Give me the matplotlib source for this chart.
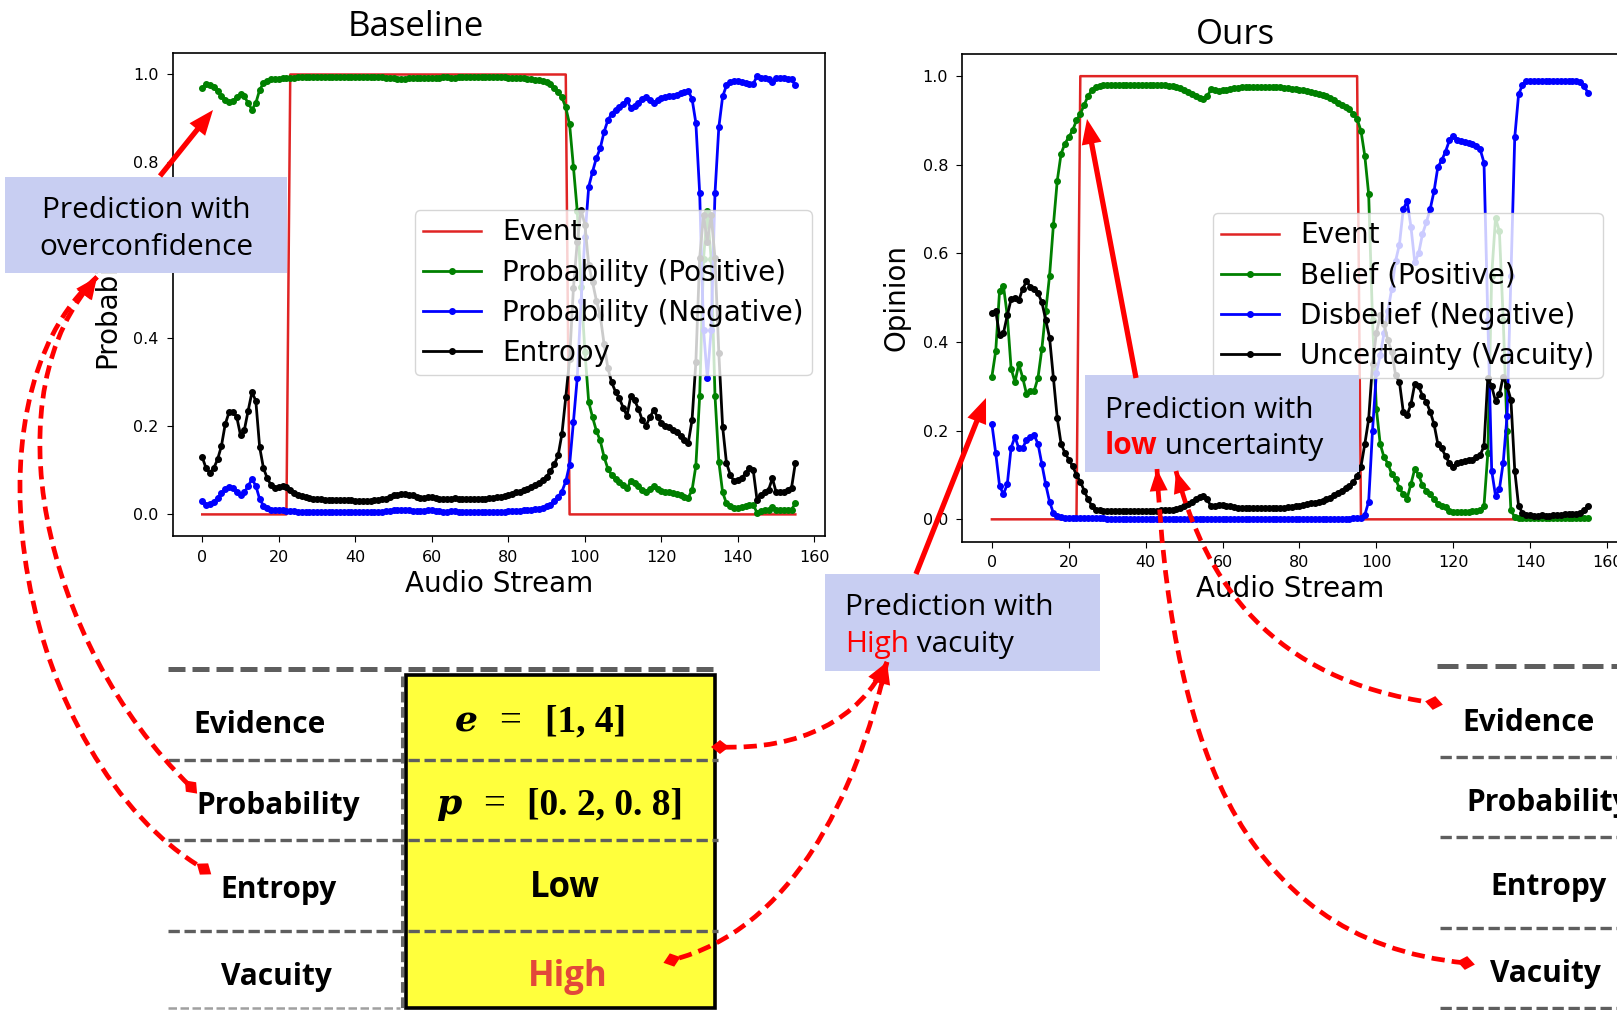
"""Baseline probability/entropy vs. our belief/disbelief/vacuity on one audio stream, with callouts."""

import matplotlib

matplotlib.use("Agg")
import matplotlib.pyplot as plt  # noqa: E402
import numpy as np  # noqa: E402
from matplotlib.patches import PathPatch, Polygon, Rectangle  # noqa: E402
from matplotlib.path import Path  # noqa: E402

# ground-truth event (same for both panels), one value per audio frame 0..155
EVENT = [
    0, 0, 0, 0, 0, 0, 0, 0, 0, 0, 0, 0, 0, 0, 0, 0, 0, 0, 0, 0,
    0, 0, 0, 1, 1, 1, 1, 1, 1, 1, 1, 1, 1, 1, 1, 1, 1, 1, 1, 1,
    1, 1, 1, 1, 1, 1, 1, 1, 1, 1, 1, 1, 1, 1, 1, 1, 1, 1, 1, 1,
    1, 1, 1, 1, 1, 1, 1, 1, 1, 1, 1, 1, 1, 1, 1, 1, 1, 1, 1, 1,
    1, 1, 1, 1, 1, 1, 1, 1, 1, 1, 1, 1, 1, 1, 1, 1, 0, 0, 0, 0,
    0, 0, 0, 0, 0, 0, 0, 0, 0, 0, 0, 0, 0, 0, 0, 0, 0, 0, 0, 0,
    0, 0, 0, 0, 0, 0, 0, 0, 0, 0, 0, 0, 0, 0, 0, 0, 0, 0, 0, 0,
    0, 0, 0, 0, 0, 0, 0, 0, 0, 0, 0, 0, 0, 0, 0, 0,
]

# --- Baseline (softmax) ---
BASE_POS = [
    0.970, 0.978, 0.976, 0.972, 0.962, 0.952, 0.942, 0.938, 0.940, 0.948,
    0.955, 0.950, 0.935, 0.920, 0.935, 0.965, 0.980, 0.986, 0.989, 0.990,
    0.990, 0.991, 0.992, 0.993, 0.993, 0.994, 0.994, 0.995, 0.995, 0.995,
    0.995, 0.995, 0.995, 0.995, 0.995, 0.995, 0.995, 0.995, 0.995, 0.995,
    0.995, 0.995, 0.995, 0.995, 0.995, 0.995, 0.995, 0.994, 0.993, 0.992,
    0.991, 0.990, 0.990, 0.990, 0.991, 0.992, 0.993, 0.993, 0.992, 0.991,
    0.991, 0.992, 0.993, 0.994, 0.994, 0.993, 0.993, 0.994, 0.994, 0.994,
    0.994, 0.994, 0.994, 0.994, 0.994, 0.994, 0.994, 0.994, 0.994, 0.994,
    0.993, 0.993, 0.992, 0.992, 0.991, 0.990, 0.989, 0.988, 0.987, 0.985,
    0.982, 0.978, 0.970, 0.960, 0.948, 0.925, 0.887, 0.790, 0.690, 0.516,
    0.370, 0.255, 0.221, 0.190, 0.168, 0.131, 0.104, 0.089, 0.080, 0.074,
    0.066, 0.059, 0.076, 0.072, 0.065, 0.055, 0.051, 0.058, 0.064, 0.058,
    0.053, 0.051, 0.050, 0.048, 0.046, 0.043, 0.040, 0.038, 0.055, 0.110,
    0.270, 0.580, 0.690, 0.580, 0.270, 0.120, 0.050, 0.025, 0.018, 0.014,
    0.015, 0.016, 0.019, 0.022, 0.021, 0.004, 0.007, 0.009, 0.010, 0.016,
    0.009, 0.009, 0.009, 0.010, 0.011, 0.025,
]
BASE_NEG = [
    0.030, 0.022, 0.024, 0.028, 0.038, 0.048, 0.058, 0.062, 0.060, 0.052,
    0.045, 0.050, 0.065, 0.080, 0.065, 0.035, 0.020, 0.014, 0.011, 0.010,
    0.010, 0.009, 0.008, 0.007, 0.007, 0.006, 0.006, 0.005, 0.005, 0.005,
    0.005, 0.005, 0.005, 0.005, 0.005, 0.005, 0.005, 0.005, 0.005, 0.005,
    0.005, 0.005, 0.005, 0.005, 0.005, 0.005, 0.005, 0.006, 0.007, 0.008,
    0.009, 0.010, 0.010, 0.010, 0.009, 0.008, 0.007, 0.007, 0.008, 0.009,
    0.009, 0.008, 0.007, 0.006, 0.006, 0.007, 0.007, 0.006, 0.006, 0.006,
    0.006, 0.006, 0.006, 0.006, 0.006, 0.006, 0.006, 0.006, 0.006, 0.006,
    0.007, 0.007, 0.008, 0.008, 0.009, 0.010, 0.011, 0.012, 0.013, 0.015,
    0.018, 0.022, 0.030, 0.040, 0.052, 0.075, 0.113, 0.210, 0.310, 0.484,
    0.630, 0.745, 0.779, 0.810, 0.832, 0.869, 0.896, 0.911, 0.920, 0.926,
    0.934, 0.941, 0.924, 0.928, 0.935, 0.945, 0.949, 0.942, 0.936, 0.942,
    0.947, 0.949, 0.950, 0.952, 0.954, 0.957, 0.960, 0.962, 0.945, 0.890,
    0.730, 0.420, 0.310, 0.420, 0.730, 0.880, 0.950, 0.975, 0.982, 0.986,
    0.985, 0.984, 0.981, 0.978, 0.979, 0.996, 0.993, 0.991, 0.990, 0.984,
    0.991, 0.991, 0.991, 0.990, 0.989, 0.975,
]
BASE_ENT = [
    0.130, 0.105, 0.095, 0.105, 0.125, 0.155, 0.205, 0.232, 0.232, 0.222,
    0.180, 0.192, 0.236, 0.278, 0.258, 0.153, 0.105, 0.082, 0.066, 0.060,
    0.063, 0.065, 0.062, 0.055, 0.048, 0.044, 0.041, 0.039, 0.037, 0.036,
    0.035, 0.034, 0.033, 0.032, 0.032, 0.032, 0.032, 0.032, 0.032, 0.032,
    0.031, 0.031, 0.031, 0.031, 0.031, 0.032, 0.033, 0.034, 0.036, 0.039,
    0.043, 0.045, 0.046, 0.046, 0.045, 0.043, 0.040, 0.038, 0.038, 0.040,
    0.040, 0.038, 0.036, 0.035, 0.035, 0.036, 0.037, 0.036, 0.035, 0.035,
    0.036, 0.036, 0.036, 0.036, 0.036, 0.037, 0.038, 0.039, 0.040, 0.042,
    0.045, 0.047, 0.050, 0.052, 0.055, 0.058, 0.062, 0.066, 0.071, 0.078,
    0.086, 0.098, 0.114, 0.134, 0.183, 0.266, 0.353, 0.514, 0.619, 0.693,
    0.659, 0.567, 0.528, 0.486, 0.453, 0.388, 0.333, 0.300, 0.279, 0.264,
    0.243, 0.224, 0.269, 0.259, 0.240, 0.214, 0.202, 0.221, 0.237, 0.221,
    0.207, 0.202, 0.199, 0.193, 0.187, 0.178, 0.168, 0.162, 0.214, 0.346,
    0.583, 0.680, 0.619, 0.680, 0.583, 0.367, 0.199, 0.117, 0.090, 0.075,
    0.078, 0.082, 0.094, 0.106, 0.100, 0.032, 0.045, 0.050, 0.056, 0.082,
    0.050, 0.050, 0.050, 0.056, 0.060, 0.117,
]

# --- Ours (subjective opinion) ---
OURS_BELIEF = [
    0.322, 0.380, 0.516, 0.527, 0.460, 0.340, 0.310, 0.350, 0.320, 0.283,
    0.289, 0.290, 0.320, 0.385, 0.470, 0.550, 0.664, 0.764, 0.825, 0.848,
    0.862, 0.878, 0.900, 0.915, 0.935, 0.955, 0.968, 0.976, 0.978, 0.980,
    0.980, 0.980, 0.981, 0.981, 0.981, 0.981, 0.980, 0.980, 0.980, 0.980,
    0.980, 0.980, 0.979, 0.979, 0.979, 0.979, 0.978, 0.977, 0.976, 0.973,
    0.969, 0.965, 0.960, 0.955, 0.950, 0.948, 0.955, 0.970, 0.968, 0.967,
    0.968, 0.968, 0.970, 0.973, 0.974, 0.975, 0.975, 0.975, 0.975, 0.975,
    0.975, 0.975, 0.975, 0.975, 0.975, 0.975, 0.974, 0.973, 0.972, 0.970,
    0.969, 0.968, 0.966, 0.964, 0.962, 0.960, 0.958, 0.955, 0.951, 0.946,
    0.940, 0.935, 0.930, 0.925, 0.915, 0.903, 0.877, 0.820, 0.734, 0.450,
    0.250, 0.170, 0.140, 0.126, 0.102, 0.091, 0.070, 0.057, 0.047, 0.080,
    0.114, 0.100, 0.077, 0.065, 0.057, 0.045, 0.035, 0.030, 0.027, 0.018,
    0.016, 0.016, 0.017, 0.017, 0.017, 0.018, 0.018, 0.020, 0.030, 0.150,
    0.550, 0.680, 0.650, 0.450, 0.200, 0.020, 0.005, 0.003, 0.002, 0.002,
    0.002, 0.002, 0.002, 0.002, 0.002, 0.002, 0.002, 0.002, 0.002, 0.002,
    0.002, 0.002, 0.002, 0.002, 0.002, 0.002,
]
OURS_DISBELIEF = [
    0.215, 0.149, 0.075, 0.057, 0.079, 0.162, 0.186, 0.160, 0.160, 0.180,
    0.186, 0.190, 0.170, 0.125, 0.079, 0.040, 0.014, 0.008, 0.005, 0.003,
    0.002, 0.002, 0.002, 0.002, 0.002, 0.002, 0.002, 0.002, 0.002, 0.002,
    0.001, 0.001, 0.001, 0.001, 0.001, 0.001, 0.001, 0.001, 0.001, 0.001,
    0.001, 0.001, 0.001, 0.001, 0.001, 0.001, 0.001, 0.001, 0.001, 0.001,
    0.001, 0.001, 0.001, 0.001, 0.001, 0.001, 0.001, 0.001, 0.001, 0.001,
    0.001, 0.001, 0.001, 0.001, 0.001, 0.001, 0.001, 0.001, 0.001, 0.001,
    0.001, 0.001, 0.001, 0.001, 0.001, 0.001, 0.001, 0.001, 0.001, 0.001,
    0.001, 0.001, 0.001, 0.001, 0.001, 0.001, 0.001, 0.001, 0.001, 0.001,
    0.001, 0.001, 0.001, 0.001, 0.002, 0.002, 0.004, 0.010, 0.040, 0.200,
    0.330, 0.370, 0.420, 0.470, 0.520, 0.583, 0.620, 0.700, 0.718, 0.660,
    0.580, 0.600, 0.644, 0.670, 0.700, 0.740, 0.795, 0.810, 0.830, 0.855,
    0.865, 0.856, 0.853, 0.852, 0.850, 0.847, 0.842, 0.835, 0.805, 0.450,
    0.110, 0.053, 0.068, 0.128, 0.233, 0.550, 0.862, 0.959, 0.980, 0.988,
    0.990, 0.990, 0.990, 0.989, 0.989, 0.990, 0.990, 0.990, 0.989, 0.989,
    0.988, 0.988, 0.988, 0.987, 0.978, 0.963,
]
OURS_VACUITY = [
    0.465, 0.470, 0.415, 0.420, 0.460, 0.497, 0.500, 0.494, 0.520, 0.537,
    0.525, 0.520, 0.510, 0.490, 0.450, 0.410, 0.320, 0.228, 0.170, 0.150,
    0.135, 0.120, 0.100, 0.085, 0.065, 0.045, 0.030, 0.022, 0.020, 0.019,
    0.018, 0.018, 0.018, 0.018, 0.018, 0.018, 0.018, 0.018, 0.018, 0.018,
    0.018, 0.018, 0.019, 0.019, 0.020, 0.020, 0.021, 0.022, 0.023, 0.026,
    0.030, 0.034, 0.040, 0.045, 0.050, 0.052, 0.045, 0.029, 0.031, 0.033,
    0.032, 0.031, 0.030, 0.027, 0.026, 0.025, 0.025, 0.025, 0.025, 0.025,
    0.025, 0.025, 0.025, 0.025, 0.025, 0.025, 0.026, 0.027, 0.028, 0.030,
    0.031, 0.032, 0.034, 0.036, 0.038, 0.040, 0.042, 0.045, 0.049, 0.054,
    0.060, 0.065, 0.070, 0.075, 0.085, 0.097, 0.119, 0.170, 0.226, 0.350,
    0.420, 0.460, 0.440, 0.404, 0.378, 0.326, 0.310, 0.243, 0.235, 0.260,
    0.306, 0.300, 0.279, 0.265, 0.243, 0.215, 0.170, 0.160, 0.143, 0.127,
    0.119, 0.128, 0.130, 0.131, 0.133, 0.135, 0.140, 0.145, 0.165, 0.320,
    0.300, 0.267, 0.282, 0.322, 0.300, 0.270, 0.110, 0.030, 0.015, 0.010,
    0.010, 0.008, 0.008, 0.010, 0.008, 0.008, 0.010, 0.010, 0.010, 0.012,
    0.012, 0.012, 0.013, 0.015, 0.020, 0.030,
]

BASE_LABELS = ["Probability (Positive)", "Probability (Negative)", "Entropy"]
OURS_LABELS = ["Belief (Positive)", "Disbelief (Negative)", "Uncertainty (Vacuity)"]
ROW_NAMES = ["Evidence", "Probability", "Entropy", "Vacuity"]

W, H = 1617, 1010
SANS = "Open Sans"
BOX_BLUE = "#c8cef2"
RED = "#ff0000"


def _frac(x0, y0, x1, y1):
    # pixel box (top-left origin) -> figure fraction rect
    return [x0 / W, 1 - y1 / H, (x1 - x0) / W, (y1 - y0) / H]


def _panel(ax, series, labels, ylabel, legend_xy):
    x = np.arange(len(EVENT))
    ax.plot(x, EVENT, color="#e02424", lw=1.8, label="Event")
    for ys, color, label in zip(series, ("green", "blue", "black"), labels):
        ax.plot(x, ys, "-o", color=color, lw=2.0, ms=4.0, label=label)
    ax.tick_params(labelsize=11.5, length=4.5, pad=5.5)
    for sp in ax.spines.values():
        sp.set_linewidth(1.2)
    ax.set_xlabel("Audio Stream", fontsize=20)
    ax.xaxis.set_label_coords(0.5, -0.069)
    ax.set_ylabel(ylabel, fontsize=20)
    ax.yaxis.set_label_coords(-0.078, 0.5)
    ax.legend(loc="upper left", bbox_to_anchor=legend_xy, borderaxespad=0, fontsize=20,
              borderpad=0.3, labelspacing=0.44, handlelength=2.1, handletextpad=0.75,
              markerscale=1.0)


def _bezier(p, t):
    p = np.asarray(p, float)
    return ((1 - t) ** 3 * p[0] + 3 * (1 - t) ** 2 * t * p[1]
            + 3 * (1 - t) * t ** 2 * p[2] + t ** 3 * p[3])


def _unit(a, b):
    d = np.asarray(b, float) - np.asarray(a, float)
    return d / np.hypot(*d)


def _head(ov, tip, frm, length, width, z=7):
    tip = np.asarray(tip, float)
    d = _unit(frm, tip)
    n = np.array([-d[1], d[0]])
    base = tip - length * d
    ov.add_patch(Polygon([tip, base + n * width / 2, base - n * width / 2],
                         closed=True, fc=RED, ec="none", zorder=z))


def _dashed_link(ov, pts):
    path = Path(pts, [Path.MOVETO, Path.CURVE4, Path.CURVE4, Path.CURVE4])
    ov.add_patch(PathPatch(path, fc="none", ec=RED, lw=3.4, ls=(0, (2.8, 1.5)), zorder=6))
    _head(ov, pts[0], _bezier(pts, 0.12), 22, 18)
    end = np.asarray(pts[3], float)
    d = _unit(_bezier(pts, 0.92), end)
    n = np.array([-d[1], d[0]])
    ov.add_patch(Polygon([end + 9 * d, end + 7 * n, end - 9 * d, end - 7 * n],
                         closed=True, fc=RED, ec="none", zorder=7))


def _solid_arrow(ov, start, tip):
    d = _unit(start, tip)
    base = np.asarray(tip, float) - 20 * d
    ov.plot([start[0], base[0]], [start[1], base[1]], color=RED, lw=3.8,
            solid_capstyle="butt", zorder=7)
    _head(ov, tip, start, 25, 20)


def _hdash(ov, x0, x1, y, lw=2.4, dash=(3.4, 1.4), color="#5e5e5e", z=3):
    ov.plot([x0, x1], [y, y], color=color, lw=lw, ls=(0, dash), dash_capstyle="butt", zorder=z)


def _box(ov, x0, y0, x1, y1):
    ov.add_patch(Rectangle((x0, y0), x1 - x0, y1 - y0, fc=BOX_BLUE, ec="none", zorder=4))


def _two_part(ov, renderer, x, y, first, rest, first_kw, size):
    t = ov.text(x, y, first, fontsize=size, family=SANS, va="baseline", zorder=8, **first_kw)
    bb = t.get_window_extent(renderer)
    x_end = ov.transData.inverted().transform((bb.x1, bb.y0))[0]
    ov.text(x_end, y, rest, fontsize=size, family=SANS, va="baseline", zorder=8)


def main():
    fig = plt.figure(figsize=(W / 100, H / 100), dpi=100)

    ax1 = fig.add_axes(_frac(172.6, 52.5, 825, 536.4))
    _panel(ax1, (BASE_POS, BASE_NEG, BASE_ENT), BASE_LABELS, "Probability", (0.371, 0.6745))
    ax2 = fig.add_axes(_frac(962.1, 54.0, 1617.6, 541.5))
    _panel(ax2, (OURS_BELIEF, OURS_DISBELIEF, OURS_VACUITY), OURS_LABELS, "Opinion", (0.3825, 0.674))

    ov = fig.add_axes([0, 0, 1, 1], zorder=10)
    ov.set_xlim(0, W)
    ov.set_ylim(H, 0)
    ov.axis("off")
    renderer = fig.canvas.get_renderer()

    ov.text(415.5, 36, "Baseline", fontsize=25, family=SANS, ha="center", va="baseline")
    ov.text(1235, 44, "Ours", fontsize=25, family=SANS, ha="center", va="baseline")

    # callout boxes
    _box(ov, 5, 177, 287, 273)
    ov.text(146, 218.3, "Prediction with", fontsize=21.5, family=SANS, ha="center", va="baseline", zorder=8)
    ov.text(146, 255, "overconfidence", fontsize=21.5, family=SANS, ha="center", va="baseline", zorder=8)

    _box(ov, 1085.4, 375, 1359.4, 471.8)
    ov.text(1104.7, 418, "Prediction with", fontsize=21.5, family=SANS, va="baseline", zorder=8)
    _two_part(ov, renderer, 1104.7, 454.4, "low", " uncertainty",
              {"color": RED, "fontweight": "bold"}, 21.5)

    _box(ov, 825, 574, 1100, 670.7)
    ov.text(845, 615, "Prediction with", fontsize=21.5, family=SANS, va="baseline", zorder=8)
    _two_part(ov, renderer, 845, 651.7, "High", " vacuity", {"color": RED}, 21.5)

    _solid_arrow(ov, (160, 176), (213, 110))
    _solid_arrow(ov, (1136, 378), (1087, 119))
    _solid_arrow(ov, (916, 574), (986, 398))

    # left comparison table
    ov.add_patch(Rectangle((406, 675), 309, 333, fc="#ffff3c", ec="black", lw=2.6, zorder=2))
    _hdash(ov, 168, 716, 669, lw=3.6, dash=(3.4, 1.4))
    for y in (760, 840, 931):
        _hdash(ov, 168, 718, y)
    _hdash(ov, 168, 400, 1008, lw=1.8, color="#a0a0a0")
    ov.plot([401.5, 401.5], [676, 1010], color="#6a6a6a", lw=2.2, ls=(0, (3.5, 1.5)), zorder=3)

    for name, (x, y) in zip(ROW_NAMES, [(193.8, 732.7), (196.5, 814), (220, 898), (221, 985)]):
        ov.text(x, y, name, fontsize=21.5, family=SANS, fontweight="bold", va="baseline", zorder=8)
    for name, (x, y) in zip(ROW_NAMES, [(1462.7, 730.7), (1466, 810.7), (1490, 895), (1490, 981.7)]):
        ov.text(x, y, name, fontsize=21.5, family=SANS, fontweight="bold", va="baseline", zorder=8)

    serif = "Liberation Serif"
    ov.text(466, 731, "e", fontsize=26, family="DejaVu Serif", style="italic", fontweight="bold",
            ha="center", va="baseline", zorder=8)
    ov.text(510, 731, "=", fontsize=28, family=serif, ha="center", va="baseline", zorder=8)
    ov.text(585, 731, "[1, 4]", fontsize=27, family=serif, fontweight="bold", ha="center",
            va="baseline", zorder=8)
    ov.text(449, 814, "p", fontsize=26, family="DejaVu Serif", style="italic", fontweight="bold",
            ha="center", va="baseline", zorder=8)
    ov.text(494, 814, "=", fontsize=28, family=serif, ha="center", va="baseline", zorder=8)
    ov.text(605, 814, "[0. 2, 0. 8]", fontsize=27, family=serif, fontweight="bold", ha="center",
            va="baseline", zorder=8)
    ov.text(565, 897, "Low", fontsize=25, family=SANS, fontweight="bold", ha="center",
            va="baseline", zorder=8)
    ov.text(568, 986, "High", fontsize=25, family=SANS, fontweight="bold", color="#e2483a",
            ha="center", va="baseline", zorder=8)

    # right table (labels only)
    _hdash(ov, 1437, 1617, 666, lw=3.6, dash=(4.2, 1.6))
    for y in (757, 837, 928, 1008):
        _hdash(ov, 1440, 1617, y)

    # dashed links: arrow end first, diamond end last
    _dashed_link(ov, [(97, 277), (-45, 400), (20, 760), (204, 869)])
    _dashed_link(ov, [(97, 277), (-10, 390), (40, 640), (191, 787)])
    _dashed_link(ov, [(887, 662), (860, 720), (800, 750), (720, 747)])
    _dashed_link(ov, [(887, 662), (855, 800), (790, 930), (672, 960)])
    _dashed_link(ov, [(1157, 469), (1170, 720), (1230, 940), (1466, 963)])
    _dashed_link(ov, [(1176, 471), (1205, 580), (1270, 680), (1434, 703)])

    fig.savefig("out.png", dpi=100)
    plt.close(fig)


if __name__ == "__main__":
    main()
